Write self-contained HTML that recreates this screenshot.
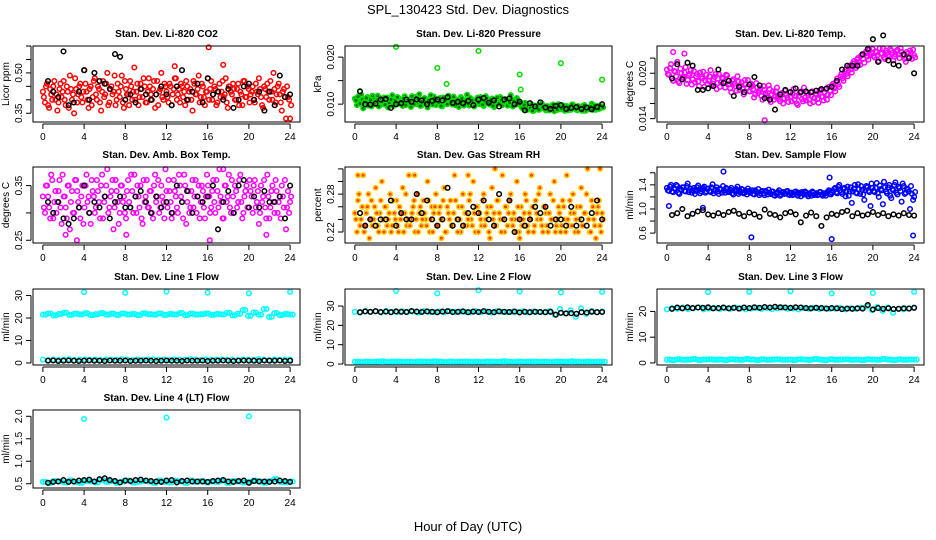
<!DOCTYPE html>
<html><head><meta charset="utf-8"><style>
body{margin:0;background:#fff}
svg{display:block;font-family:"Liberation Sans",sans-serif}
</style></head><body>
<svg id="c" width="936" height="540" viewBox="0 0 936 540">
<text x="468" y="14" text-anchor="middle" font-size="13">SPL_130423  Std. Dev. Diagnostics</text>
<text x="468" y="531" text-anchor="middle" font-size="13">Hour of Day (UTC)</text>
</svg>
<script>
const xTicks=[0,4,8,12,16,20,24];
// CO2
const co2Red=[0.43,0.39,0.46,0.37,0.42,0.45,0.40,0.36,0.44,0.41,0.47,0.38,0.43,0.49,0.40,0.35,0.44,0.42,0.46,0.39,0.51,0.43,0.37,0.45,0.41,0.48,0.40,0.44,0.36,0.47,0.42,0.50,0.39,0.45,0.43,0.38,0.46,0.41,0.49,0.37,0.44,0.42,0.47,0.40,0.52,0.43,0.38,0.46,0.41,0.45,0.39,0.48,0.42,0.44,0.37,0.47,0.43,0.50,0.40,0.45,0.41,0.46,0.38,0.44,0.48,0.42,0.39,0.45,0.43,0.47,0.40,0.44,0.36,0.46,0.42,0.49,0.41,0.45,0.38,0.43,0.40,0.47,0.42,0.44,0.39,0.46,0.43,0.41,0.48,0.37,0.45,0.42,0.44,0.40,0.46,0.43,0.38,0.47,0.41,0.44,0.42,0.45,0.39,0.43,0.48,0.41,0.37,0.44,0.46,0.40,0.43,0.50,0.39,0.45,0.42,0.36,0.44,0.33,0.41,0.33];
const co2Red2=[0.41,0.45,0.38,0.44,0.40,0.47,0.42,0.39,0.46,0.43,0.40,0.45,0.37,0.44,0.42,0.48,0.39,0.45,0.41,0.43,0.46,0.40,0.44,0.38,0.47,0.42,0.45,0.39,0.43,0.41,0.46,0.38,0.44,0.42,0.49,0.40,0.43,0.45,0.39,0.47,0.42,0.38,0.45,0.43,0.40,0.46,0.41,0.44,0.48,0.39,0.43,0.45,0.40,0.47,0.42,0.38,0.44,0.41,0.46,0.43,0.39,0.45,0.42,0.48,0.40,0.44,0.46,0.41,0.38,0.45,0.43,0.40,0.47,0.42,0.44,0.39,0.46,0.41,0.43,0.48,0.44,0.40,0.45,0.38,0.43,0.41,0.47,0.42,0.39,0.45,0.43,0.46,0.40,0.44,0.38,0.42,0.47,0.41,0.45,0.39,0.43,0.40,0.46,0.42,0.44,0.38,0.45,0.41,0.43,0.47,0.40,0.44,0.42,0.46,0.39,0.43,0.41,0.45,0.40,0.38];
const co2Black=[0.47,0.43,0.41,0.58,0.38,0.39,0.43,0.51,0.40,0.50,0.47,0.46,0.44,0.57,0.56,0.40,0.42,0.39,0.44,0.42,0.40,0.42,0.45,0.42,0.38,0.45,0.51,0.40,0.43,0.46,0.39,0.48,0.42,0.43,0.40,0.44,0.37,0.40,0.45,0.46,0.40,0.43,0.36,0.43,0.38,0.49,0.41,0.42];
const co2OutHours=[16.1,17.5,12.8];
const co2OutVals=[0.595,0.53,0.525];
// Pressure
const presGreen=[0.0112,0.0098,0.0105,0.0120,0.0091,0.0108,0.0115,0.0100,0.0095,0.0111,0.0103,0.0118,0.0097,0.0109,0.0114,0.0101,0.0093,0.0107,0.0119,0.0104,0.0099,0.0113,0.0106,0.0096,0.0117,0.0102,0.0110,0.0094,0.0108,0.0115,0.0100,0.0121,0.0097,0.0105,0.0112,0.0093,0.0109,0.0103,0.0116,0.0098,0.0107,0.0113,0.0095,0.0110,0.0101,0.0118,0.0104,0.0099,0.0112,0.0106,0.0094,0.0115,0.0102,0.0108,0.0120,0.0097,0.0111,0.0103,0.0106,0.0114,0.0100,0.0109,0.0096,0.0117,0.0105,0.0099,0.0112,0.0094,0.0108,0.0103,0.0115,0.0098,0.0110,0.0101,0.0107,0.0119,0.0095,0.0104,0.0113,0.0100,0.0096,0.0090,0.0103,0.0088,0.0094,0.0099,0.0086,0.0092,0.0097,0.0089,0.0101,0.0093,0.0087,0.0095,0.0091,0.0098,0.0085,0.0093,0.0100,0.0089,0.0094,0.0086,0.0096,0.0091,0.0088,0.0099,0.0092,0.0087,0.0095,0.0090,0.0097,0.0086,0.0093,0.0089,0.0101,0.0092,0.0088,0.0096,0.0091,0.0094];
const presGreen2=[0.0108,0.0116,0.0101,0.0110,0.0104,0.0113,0.0097,0.0109,0.0118,0.0102,0.0107,0.0095,0.0112,0.0105,0.0099,0.0114,0.0103,0.0110,0.0096,0.0108,0.0115,0.0101,0.0106,0.0112,0.0098,0.0109,0.0104,0.0117,0.0100,0.0107,0.0111,0.0096,0.0106,0.0113,0.0102,0.0108,0.0119,0.0099,0.0105,0.0110,0.0103,0.0096,0.0114,0.0107,0.0100,0.0111,0.0105,0.0116,0.0098,0.0109,0.0104,0.0112,0.0097,0.0106,0.0101,0.0113,0.0108,0.0095,0.0110,0.0104,0.0115,0.0099,0.0107,0.0112,0.0102,0.0109,0.0096,0.0106,0.0114,0.0101,0.0108,0.0105,0.0111,0.0097,0.0103,0.0110,0.0106,0.0099,0.0109,0.0104,0.0092,0.0098,0.0089,0.0095,0.0091,0.0086,0.0097,0.0093,0.0088,0.0100,0.0094,0.0090,0.0096,0.0087,0.0092,0.0099,0.0093,0.0088,0.0095,0.0091,0.0097,0.0090,0.0087,0.0094,0.0099,0.0092,0.0089,0.0096,0.0091,0.0086,0.0098,0.0093,0.0090,0.0095,0.0088,0.0097,0.0092,0.0090,0.0096,0.0093];
const presBlack=[0.0127,0.0100,0.0099,0.0101,0.0110,0.0111,0.0092,0.0100,0.0102,0.0110,0.0105,0.0110,0.0108,0.0100,0.0107,0.0110,0.0108,0.0115,0.0103,0.0105,0.0102,0.0107,0.0098,0.0110,0.0113,0.0103,0.0108,0.0095,0.0110,0.0112,0.0100,0.0105,0.0087,0.0102,0.0095,0.0104,0.0093,0.0090,0.0096,0.0098,0.0090,0.0092,0.0094,0.0090,0.0093,0.0089,0.0094,0.0100];
const presOutHours=[0.5,4,8,8.9,12,16,16.1,20,24];
const presOutVals=[0.0128,0.0222,0.0177,0.0143,0.0213,0.0163,0.0131,0.0187,0.0152];
// Temp
const tempMag=[0.0205,0.0198,0.0212,0.0190,0.0202,0.0215,0.0187,0.0200,0.0194,0.0208,0.0191,0.0199,0.0185,0.0203,0.0196,0.0189,0.0201,0.0193,0.0182,0.0198,0.0190,0.0204,0.0186,0.0195,0.0179,0.0199,0.0188,0.0193,0.0181,0.0197,0.0186,0.0175,0.0192,0.0183,0.0196,0.0178,0.0188,0.0172,0.0185,0.0191,0.0176,0.0183,0.0168,0.0187,0.0174,0.0180,0.0165,0.0178,0.0171,0.0184,0.0162,0.0176,0.0169,0.0181,0.0166,0.0173,0.0160,0.0177,0.0168,0.0175,0.0163,0.0179,0.0170,0.0158,0.0174,0.0166,0.0181,0.0164,0.0171,0.0160,0.0176,0.0167,0.0172,0.0161,0.0178,0.0169,0.0175,0.0165,0.0182,0.0171,0.0186,0.0176,0.0193,0.0182,0.0199,0.0190,0.0205,0.0196,0.0210,0.0201,0.0216,0.0207,0.0220,0.0211,0.0225,0.0214,0.0229,0.0218,0.0224,0.0232,0.0221,0.0228,0.0216,0.0226,0.0233,0.0219,0.0227,0.0222,0.0230,0.0217,0.0225,0.0231,0.0220,0.0228,0.0223,0.0215,0.0226,0.0230,0.0219,0.0224];
const tempMag2=[0.0199,0.0207,0.0193,0.0203,0.0196,0.0189,0.0206,0.0195,0.0201,0.0186,0.0197,0.0204,0.0192,0.0188,0.0199,0.0183,0.0195,0.0202,0.0190,0.0186,0.0196,0.0184,0.0192,0.0199,0.0187,0.0182,0.0194,0.0189,0.0198,0.0185,0.0180,0.0190,0.0186,0.0177,0.0189,0.0184,0.0179,0.0191,0.0181,0.0176,0.0186,0.0179,0.0172,0.0181,0.0177,0.0170,0.0183,0.0174,0.0168,0.0179,0.0172,0.0165,0.0176,0.0170,0.0163,0.0174,0.0167,0.0171,0.0162,0.0169,0.0173,0.0165,0.0160,0.0170,0.0176,0.0163,0.0168,0.0174,0.0165,0.0170,0.0162,0.0173,0.0166,0.0177,0.0169,0.0164,0.0179,0.0172,0.0177,0.0184,0.0180,0.0189,0.0185,0.0196,0.0193,0.0202,0.0199,0.0208,0.0205,0.0213,0.0210,0.0218,0.0215,0.0223,0.0219,0.0226,0.0222,0.0231,0.0227,0.0223,0.0229,0.0224,0.0233,0.0226,0.0221,0.0230,0.0224,0.0232,0.0227,0.0222,0.0229,0.0225,0.0233,0.0224,0.0219,0.0228,0.0222,0.0227,0.0231,0.0221];
const tempBlack=[0.0193,0.0212,0.0192,0.0214,0.0210,0.0178,0.0178,0.0180,0.0183,0.0205,0.0187,0.0190,0.0170,0.0182,0.0175,0.0185,0.0195,0.0184,0.0167,0.0165,0.0152,0.0172,0.0178,0.0175,0.0180,0.0175,0.0176,0.0175,0.0177,0.0179,0.0180,0.0182,0.0190,0.0205,0.0210,0.0210,0.0210,0.0225,0.0232,0.0245,0.0215,0.0250,0.0217,0.0212,0.0210,0.0225,0.0220,0.0200];
const tempOutHours=[9.5,0.6,1.7];
const tempOutVals=[0.0138,0.0228,0.0226];
// Box temp
const boxMag=[0.33,0.30,0.35,0.31,0.37,0.29,0.34,0.32,0.36,0.28,0.33,0.31,0.35,0.27,0.34,0.30,0.36,0.32,0.29,0.35,0.31,0.37,0.33,0.28,0.34,0.30,0.36,0.32,0.35,0.29,0.33,0.38,0.31,0.34,0.27,0.36,0.32,0.30,0.35,0.33,0.29,0.36,0.31,0.34,0.37,0.30,0.33,0.35,0.28,0.32,0.36,0.31,0.34,0.29,0.37,0.33,0.30,0.35,0.32,0.38,0.31,0.34,0.29,0.36,0.33,0.30,0.35,0.32,0.37,0.28,0.34,0.31,0.36,0.33,0.30,0.35,0.32,0.34,0.29,0.37,0.33,0.31,0.36,0.30,0.34,0.38,0.32,0.29,0.35,0.33,0.31,0.36,0.30,0.34,0.32,0.37,0.29,0.33,0.35,0.31,0.34,0.30,0.36,0.32,0.28,0.35,0.33,0.31,0.37,0.29,0.34,0.32,0.36,0.30,0.33,0.35,0.31,0.27,0.34,0.32];
const boxMag2=[0.31,0.35,0.33,0.29,0.36,0.32,0.30,0.34,0.31,0.37,0.33,0.29,0.35,0.32,0.30,0.36,0.34,0.31,0.33,0.28,0.35,0.32,0.30,0.36,0.33,0.31,0.34,0.29,0.37,0.32,0.35,0.30,0.33,0.36,0.31,0.34,0.28,0.35,0.32,0.30,0.34,0.32,0.37,0.30,0.33,0.35,0.31,0.29,0.36,0.33,0.31,0.34,0.30,0.35,0.32,0.36,0.31,0.33,0.29,0.34,0.36,0.32,0.30,0.34,0.31,0.37,0.33,0.29,0.35,0.32,0.30,0.34,0.31,0.36,0.33,0.29,0.35,0.31,0.33,0.35,0.30,0.34,0.32,0.36,0.31,0.33,0.29,0.35,0.32,0.37,0.30,0.33,0.35,0.31,0.36,0.32,0.30,0.34,0.31,0.36,0.33,0.35,0.31,0.34,0.30,0.32,0.36,0.29,0.33,0.31,0.35,0.30,0.34,0.32,0.29,0.33,0.36,0.31,0.30,0.33];
const boxBlack=[0.32,0.30,0.32,0.29,0.28,0.29,0.31,0.35,0.30,0.32,0.31,0.33,0.29,0.32,0.33,0.31,0.31,0.33,0.34,0.32,0.30,0.33,0.31,0.32,0.30,0.35,0.32,0.34,0.30,0.33,0.32,0.33,0.35,0.27,0.32,0.34,0.30,0.35,0.36,0.31,0.33,0.31,0.34,0.32,0.32,0.33,0.29,0.35];
const boxOutHours=[3.3,2.2,8.1,16.2,17.5,21.7];
const boxOutVals=[0.25,0.26,0.26,0.25,0.38,0.26];
// RH
const rhOrange=[0.25,0.22,0.28,0.24,0.31,0.23,0.26,0.21,0.27,0.24,0.29,0.23,0.25,0.30,0.22,0.26,0.24,0.28,0.23,0.25,0.27,0.22,0.24,0.29,0.25,0.23,0.31,0.24,0.26,0.22,0.28,0.25,0.23,0.27,0.24,0.30,0.22,0.26,0.25,0.28,0.23,0.26,0.24,0.29,0.22,0.25,0.27,0.23,0.31,0.24,0.26,0.22,0.28,0.25,0.23,0.27,0.24,0.30,0.22,0.26,0.25,0.23,0.28,0.24,0.26,0.21,0.29,0.25,0.23,0.27,0.24,0.31,0.22,0.26,0.25,0.28,0.23,0.24,0.30,0.22,0.26,0.24,0.28,0.23,0.25,0.31,0.22,0.27,0.24,0.29,0.23,0.26,0.25,0.22,0.28,0.24,0.30,0.23,0.26,0.22,0.27,0.24,0.31,0.23,0.25,0.28,0.22,0.26,0.24,0.29,0.23,0.25,0.32,0.22,0.27,0.24,0.21,0.26,0.23,0.25];
const rhOrange2=[0.24,0.27,0.23,0.26,0.22,0.25,0.28,0.24,0.23,0.26,0.25,0.22,0.27,0.24,0.26,0.23,0.25,0.22,0.27,0.24,0.23,0.26,0.25,0.22,0.28,0.24,0.23,0.25,0.27,0.24,0.22,0.26,0.24,0.25,0.23,0.27,0.24,0.22,0.26,0.23,0.25,0.24,0.27,0.22,0.26,0.24,0.23,0.25,0.27,0.22,0.24,0.26,0.23,0.25,0.24,0.28,0.23,0.25,0.26,0.22,0.24,0.27,0.23,0.25,0.22,0.26,0.24,0.23,0.27,0.25,0.22,0.24,0.26,0.23,0.27,0.24,0.25,0.22,0.26,0.24,0.23,0.25,0.27,0.22,0.24,0.26,0.23,0.25,0.28,0.24,0.22,0.26,0.23,0.25,0.24,0.27,0.22,0.24,0.25,0.23,0.26,0.22,0.24,0.27,0.23,0.25,0.24,0.22,0.26,0.23,0.25,0.28,0.24,0.22,0.26,0.23,0.25,0.27,0.22,0.24];
const rhBlack=[0.25,0.23,0.24,0.23,0.24,0.24,0.27,0.23,0.25,0.24,0.24,0.28,0.25,0.27,0.24,0.23,0.24,0.29,0.23,0.24,0.23,0.25,0.26,0.25,0.27,0.24,0.23,0.28,0.24,0.27,0.22,0.24,0.23,0.24,0.26,0.25,0.26,0.23,0.24,0.24,0.23,0.26,0.23,0.24,0.23,0.25,0.27,0.24];
const rhOutHours=[0.3,5.8,8.4,11,13.6,16,23.8];
const rhOutVals=[0.31,0.31,0.21,0.31,0.32,0.21,0.32];
// Sample flow
const sfBlue=[1.35,1.30,1.40,1.28,1.33,1.38,1.25,1.32,1.36,1.29,1.42,1.31,1.27,1.35,1.30,1.39,1.26,1.33,1.37,1.29,1.34,1.28,1.41,1.30,1.36,1.25,1.32,1.38,1.27,1.33,1.30,1.35,1.24,1.31,1.37,1.28,1.33,1.26,1.30,1.34,1.27,1.31,1.24,1.29,1.33,1.26,1.30,1.23,1.28,1.32,1.25,1.29,1.22,1.27,1.31,1.24,1.28,1.26,1.30,1.23,1.27,1.25,1.29,1.22,1.26,1.28,1.24,1.27,1.21,1.25,1.29,1.23,1.26,1.24,1.28,1.22,1.25,1.27,1.31,1.24,1.30,1.35,1.26,1.40,1.28,1.33,1.21,1.37,1.29,1.10,1.34,1.27,1.41,1.25,1.32,1.15,1.38,1.30,1.05,1.35,1.28,1.43,1.20,1.33,1.08,1.36,1.26,1.40,1.18,1.31,1.44,1.24,1.35,1.12,1.38,1.27,1.32,1.00,1.25,1.20];
const sfBlue2=[1.31,1.37,1.29,1.34,1.40,1.27,1.33,1.36,1.30,1.38,1.28,1.34,1.31,1.25,1.36,1.32,1.29,1.35,1.27,1.33,1.30,1.36,1.26,1.32,1.29,1.34,1.27,1.31,1.35,1.28,1.32,1.26,1.30,1.33,1.25,1.29,1.32,1.27,1.24,1.30,1.28,1.25,1.31,1.27,1.23,1.29,1.26,1.30,1.24,1.27,1.29,1.23,1.26,1.28,1.22,1.27,1.25,1.29,1.24,1.26,1.23,1.28,1.25,1.27,1.21,1.26,1.29,1.24,1.26,1.22,1.27,1.25,1.23,1.28,1.24,1.26,1.22,1.29,1.25,1.27,1.33,1.28,1.37,1.31,1.25,1.35,1.30,1.22,1.36,1.29,1.40,1.26,1.33,1.38,1.24,1.31,1.36,1.28,1.42,1.30,1.35,1.26,1.39,1.31,1.45,1.29,1.36,1.22,1.33,1.40,1.27,1.37,1.30,1.42,1.25,1.34,1.29,1.38,1.15,1.28];
const sfBlack=[0.90,0.93,1.00,0.88,0.92,0.96,0.98,0.91,0.89,0.93,0.90,0.95,0.97,0.92,0.88,0.94,0.91,0.87,0.99,0.92,0.90,0.86,0.93,0.95,0.91,0.78,0.89,0.94,0.88,0.72,0.86,0.92,0.90,0.95,0.97,0.88,0.93,0.89,0.91,0.95,0.90,0.93,0.88,0.91,0.89,0.93,0.90,0.89];
const sfOutHours=[5.5,8.2,15.8,16.0,23.9,0.2,3.5];
const sfOutVals=[1.62,0.53,1.52,0.50,0.56,1.05,1.02];
// Line 1
const l1High=[21.5,22.0,21.2,21.8,22.3,21.4,21.9,21.6,22.1,21.3,21.7,22.2,21.5,21.9,21.4,22.0,21.6,21.8,21.3,22.1,21.7,21.5,22.0,21.4,21.8,21.6,22.2,21.3,21.9,21.5,21.7,22.0,21.4,21.8,21.6,22.3,21.2,21.9,23.5,21.0,22.4,21.5,24.0,20.5,22.2,21.3,21.8,21.5];
const l1Low=[1.5,1.3,1.6,1.4,1.5,1.7,1.3,1.5,1.6,1.4,1.5,1.3,1.6,1.5,1.4,1.7,1.5,1.3,1.6,1.4,1.5,1.6,1.4,1.5,1.3,1.6,1.5,1.4,1.7,1.5,1.3,1.6,1.4,1.5,1.6,1.4,1.5,1.3,1.6,1.5,1.4,1.7,1.5,1.3,1.6,1.4,1.5,1.5];
const l1Black=[1.0,1.1,0.9,1.0,1.1,1.0,0.9,1.0,1.1,1.0,1.0,0.9,1.1,1.0,1.0,1.1,0.9,1.0,1.0,1.1,1.0,0.9,1.0,1.1,1.0,1.0,0.9,1.1,1.0,1.0,1.1,0.9,1.0,1.0,1.1,1.0,0.9,1.0,1.1,1.0,1.0,0.9,1.1,1.0,1.0,1.1,0.9,1.0];
const l1SpikeHours=[4,8,12,16,20,24];
const l1SpikeVals=[31.5,31.2,31.8,31.3,31.0,31.6];
// Line 2
const l2High=[27.0,26.6,27.4,26.9,27.2,26.7,27.5,27.0,26.8,27.3,26.9,27.1,26.6,27.4,27.0,26.8,27.2,26.7,27.3,26.9,27.1,27.0,26.8,27.4,26.9,27.2,26.6,27.3,27.0,26.8,27.1,26.9,27.3,26.7,27.2,27.0,26.8,27.4,25.5,28.5,26.2,27.8,24.5,28.8,26.0,27.5,26.8,27.2];
const l2Low=[1.2,1.0,1.3,1.1,1.2,1.4,1.0,1.2,1.3,1.1,1.2,1.0,1.3,1.2,1.1,1.4,1.2,1.0,1.3,1.1,1.2,1.3,1.1,1.2,1.0,1.3,1.2,1.1,1.4,1.2,1.0,1.3,1.1,1.2,1.3,1.1,1.2,1.0,1.3,1.2,1.1,1.4,1.2,1.0,1.3,1.1,1.2,1.2];
const l2Black=[26.8,27.2,27.0,27.3,26.9,27.1,26.8,27.2,27.0,26.9,27.4,27.1,26.9,27.2,27.0,26.8,27.1,27.3,26.9,27.0,27.2,26.8,27.1,26.9,27.3,27.0,26.8,27.2,27.0,26.9,27.1,26.7,27.0,26.8,27.0,26.9,26.8,27.0,25.5,26.5,26.2,26.3,26.0,26.8,26.6,27.0,26.8,26.9];
const l2SpikeHours=[4,8,12,16,20,24];
const l2SpikeVals=[37.8,36.5,38.2,37.5,37.0,37.3];
// Line 3
const l3High=[20.8,21.3,21.0,21.5,20.9,21.2,21.6,20.8,21.1,21.4,20.9,21.3,21.0,21.5,21.2,20.8,21.1,21.4,21.0,21.3,20.9,21.2,21.5,21.0,21.1,20.8,21.3,21.0,21.4,20.9,21.2,21.0,21.1,21.3,20.8,21.2,21.0,21.4,22.0,20.5,21.8,20.2,21.5,19.5,21.0,20.8,21.2,21.5];
const l3Low=[1.3,1.1,1.4,1.2,1.3,1.5,1.1,1.3,1.4,1.2,1.3,1.1,1.4,1.3,1.2,1.5,1.3,1.1,1.4,1.2,1.3,1.4,1.2,1.3,1.1,1.4,1.3,1.2,1.5,1.3,1.1,1.4,1.2,1.3,1.4,1.2,1.3,1.1,1.4,1.3,1.2,1.5,1.3,1.1,1.4,1.2,1.3,1.3];
const l3Black=[21.0,21.5,21.2,21.6,21.3,21.5,21.4,21.6,21.2,21.3,21.5,21.2,21.4,21.1,21.5,21.3,21.6,21.4,21.7,21.5,21.8,21.6,21.5,21.4,21.6,21.5,21.3,21.2,21.4,21.3,21.1,21.3,21.2,20.9,21.1,21.0,21.2,21.1,22.5,20.8,21.3,21.0,21.2,20.9,21.0,21.2,21.1,21.4];
const l3SpikeHours=[4,8,12,16,20,24];
const l3SpikeVals=[27.5,27.6,27.8,27.0,27.2,27.6];
// Line 4
const l4High=[0.54,0.52,0.56,0.55,0.53,0.57,0.54,0.52,0.56,0.55,0.53,0.58,0.54,0.56,0.52,0.55,0.57,0.53,0.54,0.56,0.55,0.52,0.57,0.54,0.53,0.56,0.55,0.52,0.57,0.54,0.56,0.53,0.55,0.54,0.57,0.52,0.56,0.55,0.53,0.54,0.57,0.55,0.52,0.56,0.60,0.54,0.53,0.55];
const l4Black=[0.52,0.54,0.55,0.58,0.54,0.55,0.57,0.58,0.59,0.55,0.60,0.62,0.58,0.56,0.53,0.57,0.56,0.58,0.59,0.57,0.56,0.55,0.54,0.57,0.58,0.53,0.56,0.57,0.55,0.55,0.55,0.54,0.56,0.57,0.58,0.55,0.54,0.56,0.57,0.52,0.56,0.55,0.55,0.54,0.55,0.57,0.56,0.54];
const l4SpikeHours=[4,12,20];
const l4SpikeVals=[1.94,1.97,2.0];

const NS='http://www.w3.org/2000/svg';
const svg=document.getElementById('c');
function el(tag,attrs,parent){const e=document.createElementNS(NS,tag);for(const k in attrs)e.setAttribute(k,attrs[k]);(parent||svg).appendChild(e);return e;}
function stepHours(n,step,off){const h=[];for(let i=0;i<n;i++)h.push(i*step+(off||0));return h;}

function panel(cfg){
  const L=33+312*cfg.col, R=300+312*cfg.col;
  const T=Math.round(46+121.3*cfg.row), B=T+(cfg.row===3?78:76);
  const g=el('g',{});
  
  
  const xs=h=>L+(h+0.96)/25.92*(R-L);
  const ys=v=>B-(v-cfg.ymin)/(cfg.ymax-cfg.ymin)*(B-T);
  const t=el('text',{x:(L+R)/2,y:T-9,'text-anchor':'middle','font-size':10,'font-weight':'bold'},g);
  t.textContent=cfg.title;
  
  
  const pts=el('g',{fill:'none','stroke-width':1.5},g);
  cfg.series.forEach(s=>{
    const sg=el('g',{stroke:s.color},pts);
    
    
    s.vals.forEach((v,i)=>{
      el('circle',{cx:xs(s.hours[i]).toFixed(1),cy:ys(v).toFixed(1),r:2.3},sg);
      if(s.inner)el('circle',{cx:xs(s.hours[i]).toFixed(1),cy:ys(v).toFixed(1),r:0.9,stroke:s.inner,'stroke-width':1.2},sg);
    });
  });
  const box=el('rect',{x:L,y:T,width:R-L,height:B-T,fill:'none',stroke:'#000','stroke-width':1},g);
  
  
  const xa=el('g',{},g);
  
  
  el('line',{x1:xs(0),x2:xs(24),y1:B+2,y2:B+2,stroke:'#000'},xa);
  xTicks.forEach(h=>{
    el('line',{x1:xs(h),x2:xs(h),y1:B+2,y2:B+7,stroke:'#000'},xa);
    const tx=el('text',{x:xs(h),y:B+18,'text-anchor':'middle','font-size':10},xa);
    tx.textContent=h;
  });
  const ya=el('g',{},g);
  
  
  const t0=cfg.ticks[0],t1=cfg.ticks[cfg.ticks.length-1];
  el('line',{x1:L-2,x2:L-2,y1:ys(t0),y2:ys(t1),stroke:'#000'},ya);
  cfg.ticks.forEach(v=>{
    el('line',{x1:L-7,x2:L-2,y1:ys(v),y2:ys(v),stroke:'#000'},ya);
  });
  cfg.labels.forEach((lab,i)=>{
    const v=cfg.labelVals[i];
    const tx=el('text',{x:L-11,y:ys(v),'text-anchor':'middle','font-size':10,transform:`rotate(-90 ${L-11} ${ys(v)})`},ya);
    tx.textContent=lab;
  });
  const yl=el('text',{x:L-24,y:(T+B)/2,'text-anchor':'middle','font-size':10,transform:`rotate(-90 ${L-24} ${(T+B)/2})`},g);
  yl.textContent=cfg.ylab;
  
  
}
const h120=stepHours(120,24/119), h120b=stepHours(120,24/119,0.1), h48=stepHours(48,0.5,0.5);
const h48b=stepHours(48,24/47), h48c=stepHours(48,24/47,0.25);
panel({name:'co2-panel',col:0,row:0,title:'Stan. Dev. Li-820 CO2',ylab:'Licor ppm',ymin:0.3175,ymax:0.60,ticks:[0.35,0.40,0.45,0.50,0.55,0.60],labels:['0.35','0.50'],labelVals:[0.35,0.50],
 series:[{name:'co2-red-points',color:'#ff0000',hours:h120,vals:co2Red},{name:'co2-red-points-b',color:'#ff0000',hours:h120b,vals:co2Red2},{name:'co2-red-outliers',color:'#ff0000',hours:co2OutHours,vals:co2OutVals},{name:'co2-black-points',color:'#000',hours:h48,vals:co2Black}]});
panel({name:'pressure-panel',col:1,row:0,title:'Stan. Dev. Li-820 Pressure',ylab:'kPa',ymin:0.00621,ymax:0.02236,ticks:[0.010,0.015,0.020],labels:['0.010','0.020'],labelVals:[0.010,0.020],
 series:[{name:'pressure-green-points',color:'#00dd00',inner:'#006600',hours:h120,vals:presGreen},{name:'pressure-green-points-b',color:'#00dd00',inner:'#006600',hours:h120b,vals:presGreen2},{name:'pressure-green-outliers',color:'#00dd00',hours:presOutHours,vals:presOutVals},{name:'pressure-black-points',color:'#000',hours:h48,vals:presBlack}]});
panel({name:'temp-panel',col:2,row:0,title:'Stan. Dev. Li-820 Temp.',ylab:'degrees C',ymin:0.01356,ymax:0.0236,ticks:[0.014,0.016,0.018,0.020,0.022],labels:['0.014','0.020'],labelVals:[0.014,0.020],
 series:[{name:'temp-magenta-points',color:'#ff00ff',hours:h120,vals:tempMag},{name:'temp-magenta-points-b',color:'#ff00ff',hours:h120b,vals:tempMag2},{name:'temp-magenta-outliers',color:'#ff00ff',hours:tempOutHours,vals:tempOutVals},{name:'temp-black-points',color:'#000',hours:h48,vals:tempBlack}]});
panel({name:'box-temp-panel',col:0,row:1,title:'Stan. Dev. Amb. Box Temp.',ylab:'degrees C',ymin:0.245,ymax:0.384,ticks:[0.25,0.30,0.35],labels:['0.25','0.35'],labelVals:[0.25,0.35],
 series:[{name:'box-magenta-points',color:'#ff00ff',hours:h120,vals:boxMag},{name:'box-magenta-points-b',color:'#ff00ff',hours:h120b,vals:boxMag2},{name:'box-magenta-outliers',color:'#ff00ff',hours:boxOutHours,vals:boxOutVals},{name:'box-black-points',color:'#000',hours:h48,vals:boxBlack}]});
panel({name:'rh-panel',col:1,row:1,title:'Stan. Dev. Gas Stream RH',ylab:'percent',ymin:0.2026,ymax:0.323,ticks:[0.22,0.24,0.26,0.28,0.30,0.32],labels:['0.22','0.28'],labelVals:[0.22,0.28],
 series:[{name:'rh-orange-points',color:'#ffcc00',inner:'#ff3300',hours:h120,vals:rhOrange},{name:'rh-orange-points-b',color:'#ffcc00',inner:'#ff3300',hours:h120b,vals:rhOrange2},{name:'rh-orange-outliers',color:'#ffcc00',inner:'#ff3300',hours:rhOutHours,vals:rhOutVals},{name:'rh-black-points',color:'#000',hours:h48,vals:rhBlack}]});
panel({name:'sample-flow-panel',col:2,row:1,title:'Stan. Dev. Sample Flow',ylab:'ml/min',ymin:0.436,ymax:1.696,ticks:[0.6,0.8,1.0,1.2,1.4,1.6],labels:['0.6','1.0','1.4'],labelVals:[0.6,1.0,1.4],
 series:[{name:'sample-flow-blue-points',color:'#0000ff',hours:h120,vals:sfBlue},{name:'sample-flow-blue-points-b',color:'#0000ff',hours:h120b,vals:sfBlue2},{name:'sample-flow-blue-outliers',color:'#0000ff',hours:sfOutHours,vals:sfOutVals},{name:'sample-flow-black-points',color:'#000',hours:h48,vals:sfBlack}]});
panel({name:'line1-flow-panel',col:0,row:2,title:'Stan. Dev. Line 1 Flow',ylab:'ml/min',ymin:-0.9,ymax:32.9,ticks:[0,10,20,30],labels:['0','10','20','30'],labelVals:[0,10,20,30],
 series:[{name:'line1-cyan-high',color:'#00ffff',hours:h48b,vals:l1High},{name:'line1-cyan-high-b',color:'#00ffff',hours:h48c,vals:l1High},{name:'line1-cyan-low',color:'#00ffff',hours:h48b,vals:l1Low},{name:'line1-cyan-spikes',color:'#00ffff',hours:l1SpikeHours,vals:l1SpikeVals},{name:'line1-black-points',color:'#000',hours:h48,vals:l1Black}]});
panel({name:'line2-flow-panel',col:1,row:2,title:'Stan. Dev. Line 2 Flow',ylab:'ml/min',ymin:-0.5,ymax:38.8,ticks:[0,10,20,30],labels:['0','10','20','30'],labelVals:[0,10,20,30],
 series:[{name:'line2-cyan-high',color:'#00ffff',hours:h48b,vals:l2High},{name:'line2-cyan-low',color:'#00ffff',hours:h48b,vals:l2Low},{name:'line2-cyan-low-b',color:'#00ffff',hours:h48c,vals:l2Low},{name:'line2-cyan-spikes',color:'#00ffff',hours:l2SpikeHours,vals:l2SpikeVals},{name:'line2-black-points',color:'#000',hours:h48,vals:l2Black}]});
panel({name:'line3-flow-panel',col:2,row:2,title:'Stan. Dev. Line 3 Flow',ylab:'ml/min',ymin:-0.8,ymax:28.7,ticks:[0,10,20],labels:['0','10','20'],labelVals:[0,10,20],
 series:[{name:'line3-cyan-high',color:'#00ffff',hours:h48b,vals:l3High},{name:'line3-cyan-low',color:'#00ffff',hours:h48b,vals:l3Low},{name:'line3-cyan-low-b',color:'#00ffff',hours:h48c,vals:l3Low},{name:'line3-cyan-spikes',color:'#00ffff',hours:l3SpikeHours,vals:l3SpikeVals},{name:'line3-black-points',color:'#000',hours:h48,vals:l3Black}]});
panel({name:'line4-flow-panel',col:0,row:3,title:'Stan. Dev. Line 4 (LT) Flow',ylab:'ml/min',ymin:0.405,ymax:2.14,ticks:[0.5,1.0,1.5,2.0],labels:['0.5','1.0','1.5','2.0'],labelVals:[0.5,1.0,1.5,2.0],
 series:[{name:'line4-cyan-points',color:'#00ffff',hours:h48b,vals:l4High},{name:'line4-cyan-points-b',color:'#00ffff',hours:h48c,vals:l4High},{name:'line4-cyan-spikes',color:'#00ffff',hours:l4SpikeHours,vals:l4SpikeVals},{name:'line4-black-points',color:'#000',hours:h48,vals:l4Black}]});
</script>
</body></html>
